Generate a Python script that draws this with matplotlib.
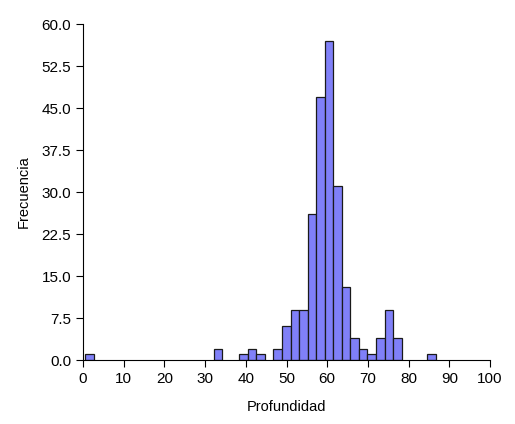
import matplotlib
matplotlib.use("Agg")
import matplotlib.pyplot as plt
import numpy as np

plt.rcParams['font.family'] = ['Liberation Sans', 'DejaVu Sans']

bin_left = [0.6, 32.1, 38.4, 40.5, 42.6, 46.8, 48.9, 51.0, 53.1, 55.2, 57.3, 59.4,
            61.5, 63.6, 65.7, 67.8, 69.9, 72.0, 74.1, 76.2, 84.6]
counts = [1, 2, 1, 2, 1, 2, 6, 9, 9, 26, 47, 57, 31, 13, 4, 2, 1, 4, 9, 4, 1]
bin_width = 2.1
yticks = [0, 7.5, 15, 22.5, 30, 37.5, 45, 52.5, 60]

fig = plt.figure(figsize=(5.15, 4.24), dpi=100)
ax = fig.add_axes([83/515, 1-360/424, 407/515, 336/424])
ax.bar(bin_left, counts, width=bin_width, align='edge', color='#8080f8',
       edgecolor='#1a1a1a', linewidth=0.9)
ax.set_xlim(0, 100)
ax.set_ylim(0, 60)
ax.set_xticks(range(0, 101, 10))
ax.set_yticks(yticks)
ax.set_yticklabels([f"{v:.1f}" for v in yticks])
for s in ['top', 'right']:
    ax.spines[s].set_visible(False)
ax.tick_params(labelsize=11, length=5)
ax.set_xlabel("Profundidad", fontsize=10.5, labelpad=10)
ax.set_ylabel("Frecuencia", fontsize=10.5, labelpad=8)
fig.savefig("out.png", dpi=100)
